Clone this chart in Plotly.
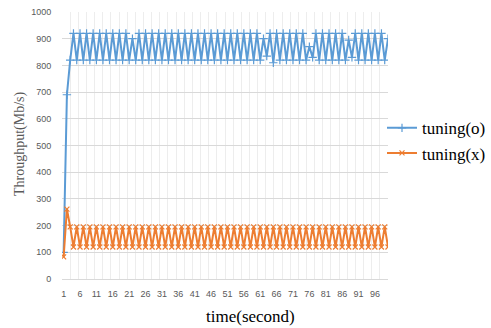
import plotly.graph_objects as go

time_s = list(range(1, 101))

tuning_o = [
    100, 690, 820, 920, 820, 920, 820, 920, 820, 920,
    820, 920, 820, 920, 820, 920, 820, 920, 820, 920,
    820, 900, 820, 920, 820, 920, 820, 920, 820, 920,
    820, 920, 820, 920, 820, 920, 820, 920, 820, 920,
    820, 920, 820, 920, 820, 920, 820, 920, 820, 920,
    820, 920, 820, 920, 820, 920, 820, 920, 820, 920,
    820, 900, 835, 920, 810, 920, 820, 920, 820, 920,
    820, 920, 820, 920, 820, 870, 830, 920, 820, 920,
    820, 920, 820, 920, 820, 920, 820, 895, 830, 920,
    820, 920, 820, 920, 820, 920, 820, 920, 820, 900,
]

tuning_x = [
    83, 262, 195, 120, 195, 120, 195, 120, 195, 120,
    195, 120, 195, 120, 195, 120, 195, 120, 195, 120,
    195, 120, 195, 120, 195, 120, 195, 120, 195, 120,
    195, 120, 195, 120, 195, 120, 195, 120, 195, 120,
    195, 120, 195, 120, 195, 120, 195, 120, 195, 120,
    195, 120, 195, 120, 195, 120, 195, 120, 195, 120,
    195, 120, 195, 120, 195, 120, 195, 120, 195, 120,
    195, 120, 195, 120, 195, 120, 195, 120, 195, 120,
    195, 120, 195, 120, 195, 120, 195, 120, 195, 120,
    195, 120, 195, 120, 195, 120, 195, 120, 195, 120,
]

x_tick_vals = [1, 6, 11, 16, 21, 26, 31, 36, 41, 46, 51, 56, 61, 66, 71, 76, 81, 86, 91, 96]
x_tick_text = [str(v) for v in x_tick_vals]
y_tick_vals = [0, 100, 200, 300, 400, 500, 600, 700, 800, 900, 1000]

BLUE = "#5B9BD5"
ORANGE = "#ED7D31"

W, H = 491, 328
ML, MR, MT, MB = 62, 103, 12, 49
PW, PH = W - ML - MR, H - MT - MB


def px_to_paper(px, py):
    return (px - ML) / PW, (H - MB - py) / PH


fig = go.Figure()
fig.add_trace(go.Scatter(
    x=time_s, y=tuning_o, name="tuning(o)", mode="lines+markers",
    line=dict(color=BLUE, width=2),
    marker=dict(symbol="cross-thin-open", size=6, line=dict(color=BLUE, width=1.2)),
))
fig.add_trace(go.Scatter(
    x=time_s, y=tuning_x, name="tuning(x)", mode="lines+markers",
    line=dict(color=ORANGE, width=2),
    marker=dict(symbol="x-thin-open", size=5, line=dict(color=ORANGE, width=1.2)),
))

yt_x, yt_y = px_to_paper(20, 144)
xt_x, xt_y = px_to_paper(250.5, 316.5)
lg_x, lg_y = px_to_paper(382, 140.8)

fig.update_layout(
    width=W, height=H,
    margin=dict(l=ML, r=MR, t=MT, b=MB, autoexpand=False),
    paper_bgcolor="white", plot_bgcolor="white",
    showlegend=True,
    hovermode=False,
    legend=dict(
        x=lg_x, xanchor="left", y=lg_y, yanchor="middle",
        font=dict(family="Liberation Serif", size=17, color="#000000"),
        bgcolor="rgba(0,0,0,0)", tracegroupgap=0, itemwidth=30,
    ),
    annotations=[
        dict(text="Throughput(Mb/s)", x=yt_x, y=yt_y, xref="paper", yref="paper",
             xanchor="center", yanchor="middle",
             showarrow=False, textangle=-90,
             font=dict(family="Liberation Serif", size=14, color="#595959")),
        dict(text="time(second)", x=xt_x, y=xt_y, xref="paper", yref="paper",
             xanchor="center", yanchor="middle",
             showarrow=False,
             font=dict(family="Liberation Serif", size=17, color="#000000")),
    ],
)

fig.update_xaxes(
    range=[0.5, 100], tickmode="array", tickvals=x_tick_vals, ticktext=x_tick_text,
    tickfont=dict(family="Liberation Sans", size=9, color="#595959"),
    ticks="outside", ticklen=6, tickcolor="rgba(0,0,0,0)",
    showgrid=False, zeroline=False, automargin=False,
    showline=True, linecolor="#D9D9D9", linewidth=1,
    minor=dict(tick0=0.5, dtick=2.4875, showgrid=True, gridcolor="#EDEDED", gridwidth=1),
)
fig.update_yaxes(
    range=[0, 1000], tickmode="array", tickvals=y_tick_vals,
    tickfont=dict(family="Liberation Sans", size=9, color="#595959"),
    ticks="outside", ticklen=8, tickcolor="rgba(0,0,0,0)", automargin=False,
    showgrid=True, gridcolor="#D9D9D9", gridwidth=1, zeroline=False, showline=False,
)

fig.write_html(
    "out.html",
    config={"displayModeBar": False},
    post_script="document.body.style.margin='0';document.body.style.overflow='hidden';",
)
